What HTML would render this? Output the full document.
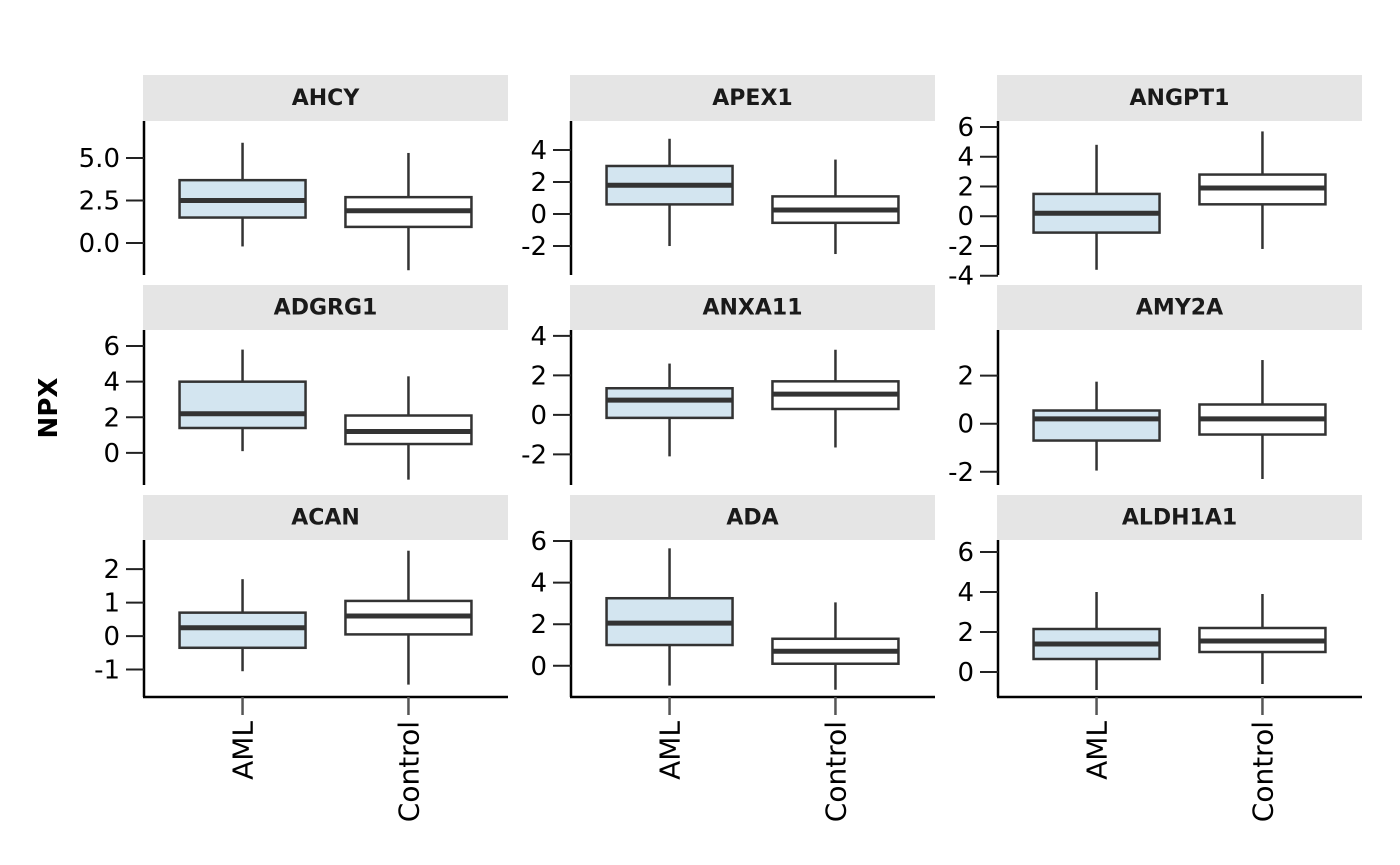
<!DOCTYPE html>
<html><head><meta charset="utf-8"><style>
body{margin:0;background:#fff}
svg{display:block;font-family:"DejaVu Sans","Liberation Sans",sans-serif}
</style></head><body>
<svg id="chart" width="1400" height="865"></svg>
<script>
const panelNames=["AHCY","APEX1","ANGPT1","ADGRG1","ANXA11","AMY2A","ACAN","ADA","ALDH1A1"];
const groups=["AML","Control"];
const yDomains=[[-1.88,7.18],[-3.81,5.81],[-3.95,6.4],[-1.8,6.9],[-3.55,4.3],[-2.55,3.9],[-1.82,2.87],[-1.5,6.05],[-1.25,6.6]];
const yTicks=[[0,2.5,5],[-2,0,2,4],[-4,-2,0,2,4,6],[0,2,4,6],[-2,0,2,4],[-2,0,2],[-1,0,1,2],[0,2,4,6],[0,2,4,6]];
const tickFmt=[1,0,0,0,0,0,0,0,0];
// [lowWhisker, q1, median, q3, highWhisker] per panel: AML, Control
const amlStats=[[-0.2,1.5,2.5,3.7,5.9],[-2.0,0.6,1.8,3.0,4.7],[-3.6,-1.1,0.2,1.5,4.8],[0.1,1.4,2.2,4.0,5.8],[-2.1,-0.15,0.75,1.35,2.6],[-1.95,-0.7,0.2,0.55,1.75],[-1.05,-0.35,0.25,0.7,1.7],[-0.95,1.0,2.05,3.25,5.65],[-0.9,0.65,1.4,2.15,4.0]];
const ctrlStats=[[-1.6,0.95,1.9,2.7,5.3],[-2.5,-0.55,0.25,1.1,3.4],[-2.2,0.8,1.9,2.8,5.7],[-1.5,0.5,1.2,2.1,4.3],[-1.65,0.3,1.05,1.7,3.3],[-2.3,-0.45,0.2,0.8,2.65],[-1.45,0.05,0.6,1.05,2.55],[-1.15,0.1,0.7,1.3,3.05],[-0.6,1.0,1.55,2.2,3.9]];
const boxWidths=[126,126];
const fills=["#d3e5f0","#ffffff"];

const svg=document.getElementById('chart');
const NS="http://www.w3.org/2000/svg";
function mk(tag,attrs,parent){const e=document.createElementNS(NS,tag);for(const k in attrs)e.setAttribute(k,attrs[k]);(parent||svg).appendChild(e);return e;}
const colX=[143,570,997], panelW=365;
const rowStrip=[75,285,495], rowTop=[121,330,540], rowBot=[275,485,697];
const stroke="#333";
for(let p=0;p<9;p++){
  const c=p%3,r=Math.floor(p/3);
  const x0=colX[c], top=rowTop[r], bot=rowBot[r];
  const g=mk('g',{});
  
  
  const strip=mk('rect',{x:x0,y:rowStrip[r],width:panelW,height:top-rowStrip[r],fill:'#e5e5e5'},g);
  
  
  const st=mk('text',{x:x0+panelW/2,y:rowStrip[r]+(top-rowStrip[r])/2+7,'text-anchor':'middle','font-size':22,'font-weight':'bold',fill:'#1a1a1a'},g);
  st.textContent=panelNames[p];
  
  
  const [d0,d1]=yDomains[p];
  const y=v=>bot-(v-d0)/(d1-d0)*(bot-top);
  const xs=i=>x0+(0.6+i)/2.2*panelW;
  const ax=mk('line',{x1:x0+1,x2:x0+1,y1:top,y2:bot,stroke:'#000','stroke-width':2.5},g);
  
  
  yTicks[p].forEach(t=>{
    mk('line',{x1:x0+1,x2:x0-17,y1:y(t),y2:y(t),stroke:'#222','stroke-width':2},g);
    const tl=mk('text',{x:x0-23,y:y(t)+9,'text-anchor':'end','font-size':26,fill:'#000'},g);
    tl.textContent=t.toFixed(tickFmt[p]);
    
    
  });
  if(r===2){
    const xa=mk('line',{x1:x0,x2:x0+panelW,y1:bot,y2:bot,stroke:'#000','stroke-width':2.5},g);
    
    
  }
  [amlStats[p],ctrlStats[p]].forEach((s,i)=>{
    const cx=xs(i), w=boxWidths[i];
    const bg=mk('g',{},g);
    
    
    mk('line',{x1:cx,x2:cx,y1:y(s[0]),y2:y(s[1]),stroke:stroke,'stroke-width':2.5},bg);
    mk('line',{x1:cx,x2:cx,y1:y(s[3]),y2:y(s[4]),stroke:stroke,'stroke-width':2.5},bg);
    mk('rect',{x:cx-w/2,y:y(s[3]),width:w,height:y(s[1])-y(s[3]),fill:fills[i],stroke:stroke,'stroke-width':2.5},bg);
    mk('line',{x1:cx-w/2,x2:cx+w/2,y1:y(s[2]),y2:y(s[2]),stroke:stroke,'stroke-width':5},bg);
    if(r===2){
      mk('line',{x1:cx,x2:cx,y1:bot,y2:bot+18,stroke:'#555','stroke-width':2.5},g);
      const xl=mk('text',{x:0,y:0,'text-anchor':'end','font-size':28,fill:'#000',transform:`translate(${cx+10},${bot+24}) rotate(-90)`},g);
      xl.textContent=groups[i];
      
      
    }
  });
}
const yt=mk('text',{x:0,y:0,'text-anchor':'middle','font-size':26,'font-weight':'bold',fill:'#000',transform:'translate(57,408) rotate(-90)'});
yt.textContent='NPX';


</script>
</body></html>
